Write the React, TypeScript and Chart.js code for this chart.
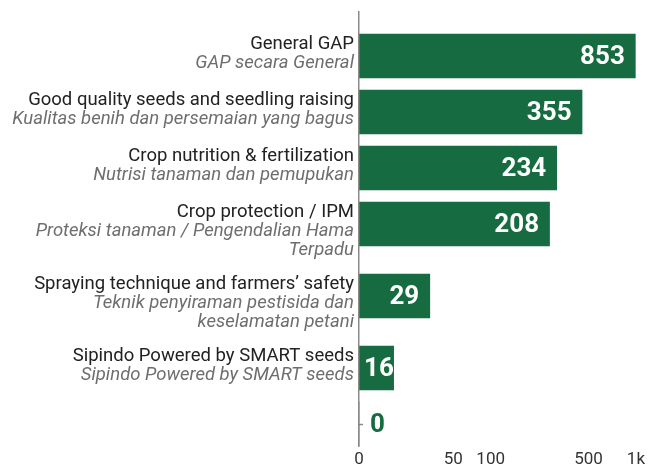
import React, { useEffect, useRef } from 'react';
import { Chart, registerables, CategoryScale } from 'chart.js';

// ---- data ----
const CATEGORIES_EN: string[] = [
  'General GAP',
  'Good quality seeds and seedling raising',
  'Crop nutrition & fertilization',
  'Crop protection / IPM',
  'Spraying technique and farmers\u2019 safety',
  'Sipindo Powered by SMART seeds',
  '',
];
const CATEGORIES_ID: string[][] = [
  ['GAP secara General'],
  ['Kualitas benih dan persemaian yang bagus'],
  ['Nutrisi tanaman dan pemupukan'],
  ['Proteksi tanaman / Pengendalian Hama', 'Terpadu'],
  ['Teknik penyiraman pestisida dan', 'keselamatan petani'],
  ['Sipindo Powered by SMART seeds'],
  [],
];
const VALUES: number[] = [853, 355, 234, 208, 29, 16, 0];
const X_TICK_VALUES: number[] = [0, 50, 100, 500, 1000];
const X_TICK_LABELS: string[] = ['0', '50', '100', '500', '1k'];
const X_MIN = 9.05;
const X_MAX = 1000;

// ---- style ----
const GREEN = '#176b40';
const AXIS_GREY = '#8a8a8a';
const FONT = 'Roboto, "Noto Sans", sans-serif';
const BAR_THICKNESS = 44;
const ROW_PAD_TOP = 22;
const ROW_BASE = 24;
const ROW_PER_LINE = 16;
const LABEL_SIZE = 18.5;
const LABEL_LINE = 19;

// row layout derived from label line counts
const LINE_COUNTS = CATEGORIES_EN.map((en, i) => (en ? 1 : 0) + CATEGORIES_ID[i].length);
const ROW_TOPS: number[] = [];
{
  let acc = ROW_PAD_TOP;
  LINE_COUNTS.forEach((n) => {
    ROW_TOPS.push(acc);
    acc += ROW_BASE + ROW_PER_LINE * n;
  });
}
const ROW_TOTAL = ROW_TOPS[ROW_TOPS.length - 1] + BAR_THICKNESS;

function rowDecimal(v: number) {
  const n = ROW_TOPS.length;
  const i = Math.max(0, Math.min(n - 1, Math.round(v)));
  const frac = v - i;
  const h = ROW_BASE + ROW_PER_LINE * LINE_COUNTS[i];
  return (ROW_TOPS[i] + BAR_THICKNESS / 2 + frac * h) / ROW_TOTAL;
}

class RowScale extends (CategoryScale as any) {
  static id = 'rows';
  static defaults = (CategoryScale as any).defaults;
  getPixelForValue(value: any) {
    let v = value;
    if (typeof v !== 'number') v = (this as any).parse(v);
    if (v === null || v === undefined || isNaN(v)) return NaN;
    return (this as any).getPixelForDecimal(rowDecimal(v));
  }
}

Chart.register(...registerables, RowScale as any);

// zero-size helper axes: widen their label clip box after layout
const helperAxesPlugin = {
  id: 'helperAxes',
  afterLayout(chart: any) {
    const y2 = chart.scales.y2;
    if (y2) y2.left = 0;
    const x0 = chart.scales.x0;
    if (x0) x0.bottom = chart.height;
  },
};

const valueLabelPlugin = {
  id: 'valueLabels',
  afterDatasetsDraw(chart: any) {
    const ctx = chart.ctx;
    const xs = chart.scales.x;
    const ys = chart.scales.y;
    ctx.save();
    ctx.font = `bold 26px ${FONT}`;
    ctx.textBaseline = 'middle';
    ctx.textAlign = 'left';
    VALUES.forEach((v, i) => {
      const base = xs.getPixelForValue(0);
      const end = v > 0 ? xs.getPixelForValue(v) : base;
      const y = ys.getPixelForValue(i) + 1;
      const text = String(v);
      const w = ctx.measureText(text).width;
      const len = end - base;
      if (len >= w + 4) {
        ctx.fillStyle = '#ffffff';
        ctx.fillText(text, Math.max(base + 5, end - 10.5 - w), y);
      } else {
        ctx.fillStyle = GREEN;
        ctx.fillText(text, end + 11, y);
      }
    });
    ctx.restore();
  },
};

function xAxis(indices: number[], align: string, weight: number, helper: boolean) {
  return {
    type: 'logarithmic',
    axis: 'x',
    position: 'bottom',
    weight,
    min: X_MIN,
    max: X_MAX,
    grid: { display: false, drawTicks: false },
    border: { display: false },
    afterBuildTicks: (scale: any) => {
      scale.ticks = indices.map((k) => ({ value: X_TICK_VALUES[k] === 0 ? scale.min : X_TICK_VALUES[k] }));
    },
    afterFit: (scale: any) => {
      scale.height = helper ? 0 : 21;
      scale.paddingLeft = 0;
      scale.paddingRight = 0;
    },
    ticks: {
      autoSkip: false,
      maxRotation: 0,
      minRotation: 0,
      align,
      padding: 5,
      color: '#333333',
      font: { family: FONT, size: 17, lineHeight: 1 },
      callback: (_v: any, idx: number) => X_TICK_LABELS[indices[idx]],
    },
  };
}

export default function App() {
  const ref = useRef<HTMLCanvasElement | null>(null);
  useEffect(() => {
    if (!ref.current) return;
    const idLabels = CATEGORIES_ID.map((l) => (l.length >= 2 ? l : l.length === 1 ? [l[0], ''] : ['', '']));
    const chart = new Chart(ref.current, {
      type: 'bar',
      data: {
        labels: CATEGORIES_EN,
        datasets: [
          {
            data: VALUES,
            backgroundColor: GREEN,
            borderWidth: 0,
            barThickness: BAR_THICKNESS,
            xAxisID: 'x',
            yAxisID: 'y',
          },
        ],
      },
      options: {
        indexAxis: 'y',
        animation: false,
        responsive: false,
        events: [],
        layout: { padding: { top: 12, right: 6, bottom: 1, left: 0 } },
        plugins: { legend: { display: false }, tooltip: { enabled: false } },
        scales: {
          x: xAxis([1, 2, 3, 4], 'end', 1, false),
          x0: xAxis([0], 'center', 0, true),
          y: {
            type: 'rows',
            axis: 'y',
            position: 'left',
            weight: 1,
            labels: CATEGORIES_EN,
            grid: { display: false, drawTicks: false },
            border: { display: false },
            afterFit: (scale: any) => {
              scale.width = 359;
              scale.paddingTop = 0;
              scale.paddingBottom = 0;
            },
            ticks: {
              autoSkip: false,
              padding: 5,
              labelOffset: -12,
              color: '#222222',
              font: { family: FONT, size: LABEL_SIZE, lineHeight: LABEL_LINE / LABEL_SIZE },
            },
          },
          y2: {
            type: 'rows',
            axis: 'y',
            position: 'left',
            weight: 0,
            offset: true,
            labels: idLabels,
            grid: {
              display: true,
              offset: false,
              drawOnChartArea: false,
              drawTicks: true,
              tickLength: -4,
              tickColor: AXIS_GREY,
              tickWidth: 1.5,
            },
            border: { display: true, color: AXIS_GREY, width: 1.5, z: 1 },
            afterFit: (scale: any) => {
              scale.width = 0;
              scale.paddingTop = 0;
              scale.paddingBottom = 0;
            },
            ticks: {
              autoSkip: false,
              padding: 9,
              labelOffset: 7 + LABEL_LINE / 2,
              color: '#6e6e6e',
              font: { family: FONT, size: LABEL_SIZE, style: 'italic', lineHeight: LABEL_LINE / LABEL_SIZE },
            },
          },
        } as any,
      },
      plugins: [helperAxesPlugin, valueLabelPlugin],
    } as any);
    return () => chart.destroy();
  }, []);
  return (
    <div style={{ position: 'fixed', left: 0, top: 0, width: 651, height: 468, background: '#ffffff' }}>
      <canvas ref={ref} width={651} height={468} style={{ display: 'block', width: 651, height: 468 }} />
    </div>
  );
}
